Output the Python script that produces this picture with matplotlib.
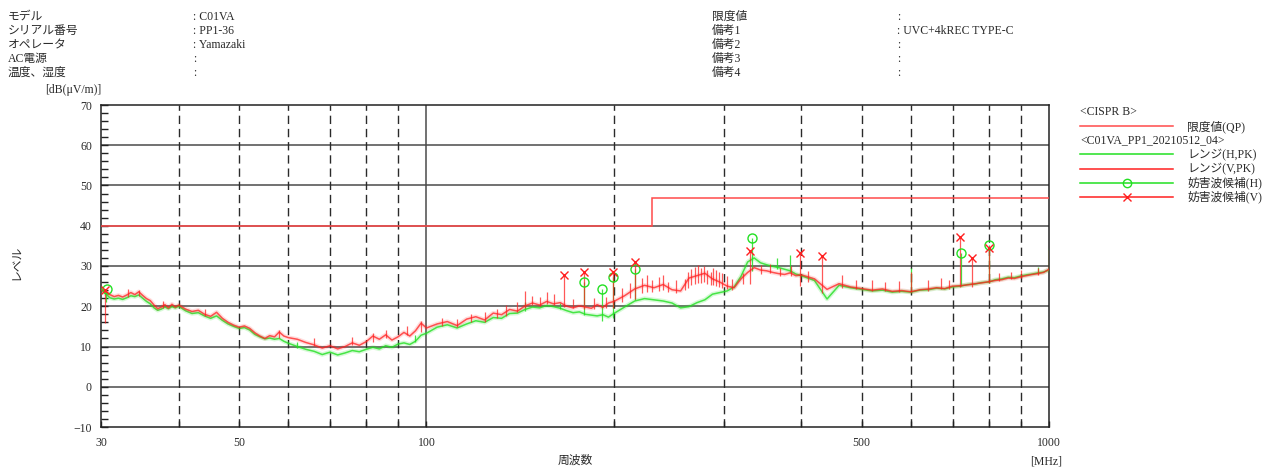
import matplotlib
matplotlib.use("Agg")
import matplotlib.pyplot as plt
from matplotlib.lines import Line2D

plt.rcParams["font.family"] = ["Liberation Serif", "Noto Sans CJK JP"]

# ---------------- measurement data ----------------
freq_mhz = [
    30.0, 30.5, 31.0, 31.5, 32.0, 32.5, 33.0, 33.5, 34.0, 34.5, 35.0, 35.5, 36.0, 36.5, 37.0, 37.5,
    38.0, 38.5, 39.0, 39.5, 40.0,
    41, 42, 43, 44, 45, 46, 47, 48, 49, 50, 51, 52, 53, 54, 55, 56, 57, 58, 59, 60,
    62, 64, 66, 68, 70, 72, 74, 76, 78, 80, 82, 84, 86, 88, 90, 92, 94, 96, 98, 100,
    104, 108, 112, 116, 120, 124, 128, 132, 136, 140, 144, 148, 152, 156, 160, 164, 168, 172,
    176, 180, 184, 188, 192, 196, 200,
    208, 216, 224, 232, 240, 248, 256, 264, 272, 280, 288, 296, 304, 312, 320, 328, 336, 344,
    352, 360, 368, 376, 384, 392, 400,
    420, 440, 460, 480, 500, 520, 540, 560, 580, 600, 620, 640, 660, 680, 700, 720, 740, 760,
    780, 800, 820, 840, 860, 880, 900, 920, 940, 960, 980, 1000,
]

# Vertical polarisation, peak detector [dB(uV/m)]
level_v_pk = [
    24.0, 23.6, 22.9, 22.4, 22.7, 22.3, 22.8, 23.4, 22.9, 23.6, 22.7, 21.9, 21.4, 20.3, 19.4, 19.8,
    20.4, 19.6, 20.5, 19.8, 20.3,
    19.3, 18.7, 19.0, 18.0, 17.5, 18.5, 17.0, 16.0, 15.3, 14.8, 15.1, 14.5, 13.4, 12.6, 12.0, 12.7,
    12.4, 13.6, 12.6, 12.2,
    11.8, 11.0, 10.4, 9.6, 10.2, 9.4, 10.0, 10.9, 10.3, 11.2, 12.6, 11.8, 12.9, 11.6, 12.4, 13.5,
    12.6, 13.9, 15.8, 14.6,
    15.6, 16.2, 15.2, 16.8, 17.4, 16.6, 18.3, 17.9, 19.2, 18.8, 20.1, 20.8, 20.3, 21.2, 20.6, 20.9,
    20.0, 19.6, 20.1, 19.8, 19.5, 20.4, 19.7, 20.8, 21.2,
    22.6, 24.3, 25.2, 24.6, 25.4, 24.1, 23.8, 27.0, 27.6, 28.2, 26.8, 26.0, 25.0, 24.6, 26.8, 28.4,
    29.6, 29.0, 28.8, 28.4, 28.1, 27.9, 28.3, 27.6, 27.8,
    26.8, 24.2, 25.6, 24.8, 24.4, 24.0, 24.3, 23.7, 23.9, 23.6, 24.1, 24.3, 24.6, 24.4, 25.0, 25.1,
    25.3, 25.6, 25.8, 26.1, 26.4, 26.6, 27.0, 26.9, 27.3, 27.6, 27.9, 28.1, 28.4, 29.2,
]

# Horizontal polarisation, peak detector [dB(uV/m)]
level_h_pk = [
    24.3, 23.2, 22.1, 21.8, 22.0, 21.7, 22.1, 22.6, 22.4, 22.8, 22.0, 21.2, 20.6, 19.6, 19.0, 19.3,
    19.8, 19.4, 19.9, 19.6, 20.0,
    18.9, 18.2, 18.4, 17.6, 17.0, 17.6, 16.5, 15.6, 15.0, 14.5, 14.7, 14.1, 13.0, 12.4, 11.9, 12.1,
    11.8, 12.0, 11.3, 10.8,
    10.0, 9.3, 8.8, 8.0, 8.6, 7.9, 8.4, 9.0, 8.7, 9.3, 9.8, 9.4, 10.2, 9.8, 10.6, 10.9,
    10.5, 11.3, 12.8, 13.3,
    14.8, 15.4, 14.6, 15.6, 16.4, 16.0, 17.2, 17.0, 18.2, 18.3, 19.2, 19.8, 19.6, 20.2, 19.9, 19.5,
    18.9, 18.4, 18.6, 18.0, 17.8, 17.6, 17.9, 17.3, 18.2,
    19.8, 21.3, 21.9, 21.6, 21.3, 20.8, 19.6, 19.9, 20.9, 21.6, 23.0, 23.4, 23.8, 24.8, 27.4, 31.0,
    32.0, 30.8, 30.3, 29.9, 29.6, 29.2, 28.8, 28.0, 27.6,
    26.4, 21.8, 25.2, 24.6, 24.2, 23.8, 24.0, 23.5, 23.7, 23.5, 24.0, 24.1, 24.5, 24.3, 24.8, 25.0,
    25.4, 25.5, 25.9, 26.0, 26.6, 26.8, 27.2, 27.1, 27.5, 27.8, 28.0, 28.3, 28.5, 29.0,
]

# Narrow-band spikes: frequency, lower end, upper end
spike_v_f = [30.5, 33.2, 34.5, 37.8, 44, 58, 66, 76, 82, 86, 93, 98, 106, 112, 118, 124, 130,
             134, 140, 144, 148, 152, 156, 160, 166.5, 172, 179.3, 186, 194, 199.6, 206, 212,
             216.6, 222, 226, 230, 236, 240, 244, 252, 260, 263, 266, 270, 273, 276, 279, 282,
             286, 289, 292, 295, 298, 304, 310, 322, 331, 345, 356, 370, 385, 398, 410, 432,
             465, 490, 520, 545, 575, 600, 640, 670, 690, 719, 752, 800, 830, 870, 900, 960, 1000]
spike_v_lo = [15.9, 22.4, 22.5, 19.6, 17.6, 12.2, 10.2, 10.4, 11.0, 12.0, 12.8, 13.5, 15.0, 14.8,
              16.0, 16.2, 17.2, 17.6, 18.6, 19.6, 20.2, 20.0, 20.6, 20.2, 19.8, 19.5, 19.4, 19.4,
              19.6, 19.6, 21.0, 22.0, 21.8, 23.2, 23.5, 23.6, 23.8, 24.0, 23.5, 23.2, 24.0, 24.6,
              25.2, 25.6, 25.8, 25.8, 26.0, 25.6, 25.3, 25.2, 25.0, 24.8, 24.6, 24.2, 24.0, 25.6,
              25.6, 28.0, 28.2, 27.6, 27.4, 25.1, 26.0, 23.4, 24.6, 24.4, 23.8, 23.8, 23.6, 23.5,
              23.8, 24.2, 24.4, 24.8, 24.8, 25.8, 26.2, 26.8, 27.0, 27.8, 28.5]
spike_v_hi = [24.1, 24.2, 24.0, 21.4, 19.4, 14.0, 12.0, 12.4, 13.3, 14.2, 15.0, 16.4, 17.2, 16.8,
              18.0, 18.6, 19.4, 20.2, 21.0, 23.9, 22.6, 22.4, 23.5, 23.0, 27.7, 21.8, 28.5, 22.0,
              22.4, 28.5, 24.5, 25.8, 31.0, 27.0, 27.8, 26.6, 27.2, 27.8, 26.0, 26.6, 26.8, 28.6,
              29.3, 29.8, 30.2, 29.5, 30.0, 29.0, 28.6, 29.6, 28.9, 28.4, 28.3, 27.5, 26.8, 28.2,
              33.8, 30.2, 30.4, 29.6, 30.0, 33.2, 28.8, 32.4, 27.7, 26.6, 26.4, 26.0, 26.2, 28.5,
              26.5, 27.0, 26.4, 37.3, 32.0, 34.4, 28.2, 28.6, 29.0, 29.6, 34.0]

spike_h_f = [30.6, 62, 96, 144, 164, 179.3, 191.5, 199.6, 216.6, 333, 366, 383, 600, 721, 801,
             960, 1000]
spike_h_lo = [21.0, 9.6, 11.0, 18.8, 19.2, 17.9, 16.4, 17.0, 21.5, 28.8, 29.2, 28.6, 23.5, 25.0,
              25.8, 28.0, 28.8]
spike_h_hi = [24.2, 11.2, 12.8, 21.0, 20.8, 26.0, 24.3, 27.3, 29.3, 36.9, 32.0, 32.8, 29.5, 33.2,
              35.2, 29.8, 34.5]

# Disturbance candidates
cand_v_f = [30.5, 166.5, 179.3, 199.6, 216.6, 331, 398, 432, 719, 752, 800]
cand_v_lv = [24.1, 27.7, 28.5, 28.5, 31.0, 33.8, 33.2, 32.4, 37.3, 32.0, 34.4]
cand_h_f = [30.7, 179.3, 191.5, 199.6, 216.6, 333, 721, 801]
cand_h_lv = [24.2, 26.0, 24.3, 27.3, 29.3, 36.9, 33.2, 35.2]

# CISPR B quasi-peak limit
limit_edges = [30, 230, 1000]
limit_values = [40, 47]

x_major = [30, 50, 100, 500, 1000]
x_grid_dashed = [40, 50, 60, 70, 80, 90, 200, 300, 400, 500, 600, 700, 800, 900]
y_major = list(range(-10, 71, 10))

header_left = [("モデル", ": C01VA"), ("シリアル番号", ": PP1-36"), ("オペレータ", ": Yamazaki"),
               ("AC電源", ":"), ("温度、湿度", ":")]
header_right = [("限度値", ":"), ("備考1", ": UVC+4kREC TYPE-C"), ("備考2", ":"),
                ("備考3", ":"), ("備考4", ":")]

# ---------------- figure ----------------
W, H = 1272, 468
fig = plt.figure(figsize=(W / 100, H / 100), dpi=100)
TEXT = "#2a2a2a"
RED = "#ff2020"
GREEN = "#22e022"
LIMIT = "#ff4a4a"

ax = fig.add_axes([101 / W, 1 - 427 / H, (1049 - 101) / W, (427 - 105) / H])
ax.set_xscale("log")
ax.set_xlim(30, 1000)
ax.set_ylim(-10, 70)

# grid
for yv in y_major[1:-1]:
    ax.axhline(yv, color="#4a4a4a", lw=1.1, zorder=1)
for xv in x_grid_dashed:
    ax.axvline(xv, color="#2a2a2a", lw=1.0, dashes=(6, 3.5), zorder=1)
ax.axvline(100, color="#4a4a4a", lw=1.1, zorder=1)

# limit
ax.stairs(limit_values, limit_edges, baseline=None, color=LIMIT, lw=1.1, zorder=3)

# traces (soft halo under each line, then the line itself)
ax.plot(freq_mhz, level_h_pk, color=GREEN, lw=3.2, alpha=0.18, zorder=4, solid_joinstyle="round")
ax.plot(freq_mhz, level_h_pk, color=GREEN, lw=1.1, alpha=0.8, zorder=4)
ax.vlines(spike_h_f, spike_h_lo, spike_h_hi, color=GREEN, lw=0.9, alpha=0.85, zorder=4)
ax.plot(freq_mhz, level_v_pk, color=RED, lw=3.2, alpha=0.15, zorder=5, solid_joinstyle="round")
ax.plot(freq_mhz, level_v_pk, color=RED, lw=1.1, alpha=0.75, zorder=5)
ax.vlines(spike_v_f, spike_v_lo, spike_v_hi, color=RED, lw=0.9, alpha=0.75, zorder=5)

# candidates
ax.plot(cand_h_f, cand_h_lv, ls="none", marker="o", ms=6.5, mfc="none", mec=GREEN,
        mew=1.0, zorder=6)
ax.plot(cand_v_f, cand_v_lv, ls="none", marker="x", ms=6, mec=RED, mew=1.0, zorder=7)

# axes styling
for sp in ax.spines.values():
    sp.set_color("#222222")
    sp.set_linewidth(1.1)
ax.set_yticks(y_major)
ax.set_yticks(range(-10, 71, 2), minor=True)
ax.set_xticks(x_major)
ax.set_xticklabels([str(v) for v in x_major])
ax.set_xticks([40, 60, 70, 80, 90, 100, 200, 300, 400, 600, 700, 800, 900], minor=True)
ax.xaxis.set_minor_formatter(plt.NullFormatter())
ax.tick_params(axis="y", which="both", direction="in", length=5, width=1.0, color="#222222",
               labelsize=8.5, labelcolor=TEXT, pad=6.5)
ax.tick_params(axis="x", which="both", direction="in", length=4.5, width=1.0, color="#222222",
               labelsize=8.5, labelcolor=TEXT, pad=7)


def ftext(x, y, s, **kw):
    kw.setdefault("fontsize", 8.5)
    kw.setdefault("color", TEXT)
    kw.setdefault("va", "center")
    kw.setdefault("ha", "left")
    fig.text(x / W, 1 - y / H, s, **kw)


def fline(x1, x2, y, **kw):
    fig.add_artist(Line2D([x1 / W, x2 / W], [1 - y / H, 1 - y / H], **kw))


# header
for i, (k, v) in enumerate(header_left):
    y = 17 + i * 14
    ftext(8, y, k)
    ftext(193, y, v)
for i, (k, v) in enumerate(header_right):
    y = 17 + i * 14
    ftext(712, y, k)
    ftext(897, y, v)

# axis titles
ftext(45, 90, "[dB(μV/m)]")
ftext(17, 262, "レベル", rotation=90, ha="center")
ftext(575, 461, "周波数", ha="center")
ftext(1062, 461, "[MHz]", ha="right")

# legend
ftext(1080, 112, "<CISPR B>")
fline(1080, 1173, 126.5, color=LIMIT, lw=1.1)
ftext(1187, 127, "限度値(QP)")
ftext(1080, 140, "<C01VA_PP1_20210512_04>")
fline(1080, 1173, 154.5, color=GREEN, lw=1.1)
ftext(1187, 155, "レンジ(H,PK)")
fline(1080, 1173, 168.5, color=RED, lw=1.1)
ftext(1187, 169, "レンジ(V,PK)")
fline(1080, 1173, 182.5, color=GREEN, lw=1.1)
fig.add_artist(Line2D([1127 / W], [1 - 182.5 / H], ls="none", marker="o", ms=6, mfc="none",
                      mec=GREEN, mew=1.0))
ftext(1187, 183, "妨害波候補(H)")
fline(1080, 1173, 196.5, color=RED, lw=1.1)
fig.add_artist(Line2D([1127 / W], [1 - 196.5 / H], ls="none", marker="x", ms=6, mec=RED,
                      mew=1.0))
ftext(1187, 197, "妨害波候補(V)")

fig.savefig("out.png", dpi=100)
